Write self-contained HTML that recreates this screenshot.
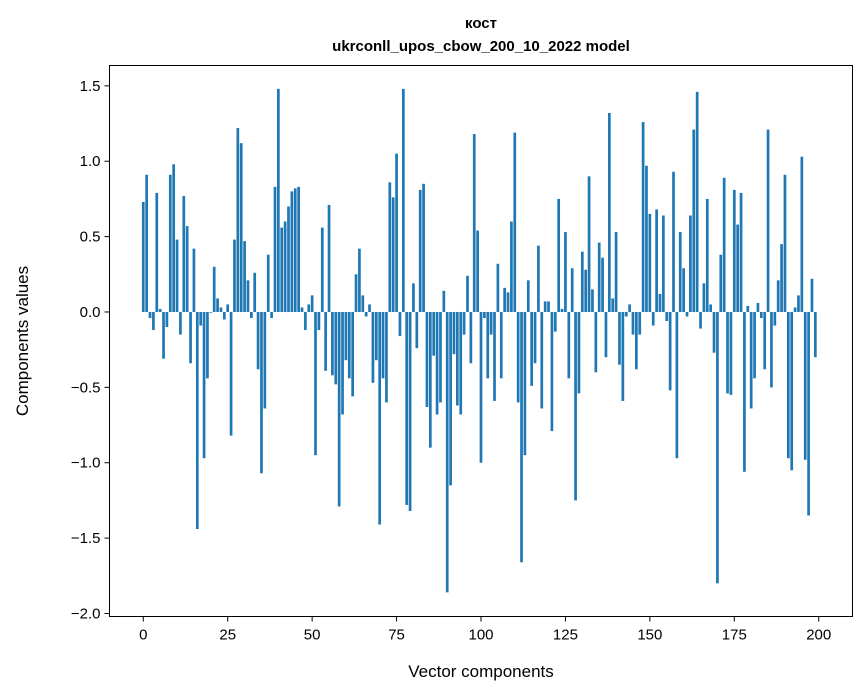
<!DOCTYPE html>
<html><head><meta charset="utf-8"><style>
body{margin:0;background:#fff;}
svg{display:block;font-family:"Liberation Sans","DejaVu Sans",sans-serif;}
</style></head><body>
<svg id="chart" width="867" height="696" viewBox="0 0 867 696">
<rect width="867" height="696" fill="#fff"/>
<text x="481" y="28" text-anchor="middle" font-size="15" font-weight="bold">кост</text>
<text x="481" y="51" text-anchor="middle" font-size="15" font-weight="bold">ukrconll_upos_cbow_200_10_2022 model</text>
<g id="bars"></g>
<g id="xticks"></g>
<g id="yticks"></g>
<rect x="109.5" y="65.5" width="743" height="551" fill="none" stroke="#000" stroke-width="1"/>
<text x="481" y="677" text-anchor="middle" font-size="17">Vector components</text>
<text x="28" y="341" text-anchor="middle" font-size="17" transform="rotate(-90 28 341)">Components values</text>
</svg>
<script>
const values = [0.73,0.91,-0.04,-0.12,0.79,0.02,-0.31,-0.10,0.91,0.98,
0.48,-0.15,0.77,0.57,-0.34,0.42,-1.44,-0.09,-0.97,-0.44,
-0.005,0.30,0.09,0.03,-0.05,0.05,-0.82,0.48,1.22,1.12,
0.47,0.21,-0.04,0.26,-0.38,-1.07,-0.64,0.38,-0.04,0.83,
1.48,0.56,0.60,0.70,0.80,0.82,0.83,0.03,-0.12,0.05,
0.11,-0.95,-0.12,0.56,-0.39,0.71,-0.42,-0.48,-1.29,-0.68,
-0.32,-0.44,-0.56,0.25,0.42,0.11,-0.03,0.05,-0.47,-0.32,
-1.41,-0.44,-0.60,0.86,0.76,1.05,-0.16,1.48,-1.28,-1.32,
0.19,-0.24,0.81,0.85,-0.63,-0.90,-0.29,-0.68,-0.60,0.14,
-1.86,-1.15,-0.28,-0.62,-0.68,-0.15,0.24,-0.34,1.18,0.54,
-1.00,-0.04,-0.44,-0.15,-0.59,0.32,-0.44,0.16,0.13,0.60,
1.19,-0.60,-1.66,-0.95,0.21,-0.49,-0.34,0.44,-0.64,0.07,
0.07,-0.79,-0.13,0.75,0.02,0.53,-0.44,0.29,-1.25,-0.54,
0.40,0.28,0.90,0.15,-0.40,0.46,0.36,-0.30,1.32,0.09,
0.53,-0.35,-0.59,-0.03,0.05,-0.15,-0.38,-0.15,1.26,0.97,
0.65,-0.09,0.68,0.12,0.64,-0.06,-0.52,0.93,-0.97,0.53,
0.29,-0.03,0.64,1.21,1.46,-0.11,0.19,0.75,0.05,-0.27,
-1.80,0.38,0.89,-0.54,-0.55,0.81,0.58,0.79,-1.06,0.04,
-0.64,-0.44,0.06,-0.04,-0.38,1.21,-0.50,-0.09,0.21,0.45,
0.91,-0.97,-1.05,0.03,0.11,1.03,-0.98,-1.35,0.22,-0.30];
const xTickLabels = [0,25,50,75,100,125,150,175,200];
const yTickLabels = [1.5,1.0,0.5,0.0,-0.5,-1.0,-1.5,-2.0];

const NS = "http://www.w3.org/2000/svg";
const xMin=-10, xMax=210, yMin=-2.02, yMax=1.635;
const L=109.5, R=852.5, T=65.5, B=616.5;
function xs(v){return L+(v-xMin)/(xMax-xMin)*(R-L);}
function ys(v){return T+(yMax-v)/(yMax-yMin)*(B-T);}
const bw = (xs(1)-xs(0))*0.8;
const gb = document.getElementById('bars');
values.forEach((v,i)=>{
  const r=document.createElementNS(NS,'rect');
  const y0=ys(0), y1=ys(v);
  r.setAttribute('x', xs(i)-bw/2);
  r.setAttribute('y', Math.min(y0,y1));
  r.setAttribute('width', bw);
  r.setAttribute('height', Math.abs(y1-y0));
  r.setAttribute('fill', '#1f77b4');
  
  
  gb.appendChild(r);
});
const gx=document.getElementById('xticks');
xTickLabels.forEach(t=>{
  const x=xs(t);
  const l=document.createElementNS(NS,'line');
  l.setAttribute('x1',x);l.setAttribute('x2',x);l.setAttribute('y1',B);l.setAttribute('y2',B+5);
  l.setAttribute('stroke','#000');
  
  
  gx.appendChild(l);
  const tx=document.createElementNS(NS,'text');
  tx.setAttribute('x',x);tx.setAttribute('y',B+23);tx.setAttribute('text-anchor','middle');tx.setAttribute('font-size','15');
  tx.textContent=t;
  
  
  gx.appendChild(tx);
});
const gy=document.getElementById('yticks');
yTickLabels.forEach(t=>{
  const y=ys(t);
  const l=document.createElementNS(NS,'line');
  l.setAttribute('x1',L-5);l.setAttribute('x2',L);l.setAttribute('y1',y);l.setAttribute('y2',y);
  l.setAttribute('stroke','#000');
  
  
  gy.appendChild(l);
  const tx=document.createElementNS(NS,'text');
  tx.setAttribute('x',L-9);tx.setAttribute('y',y+5);tx.setAttribute('text-anchor','end');tx.setAttribute('font-size','15');
  tx.textContent=(t<0?'\u2212':'')+Math.abs(t).toFixed(1);
  
  
  gy.appendChild(tx);
});
</script>
</body></html>
